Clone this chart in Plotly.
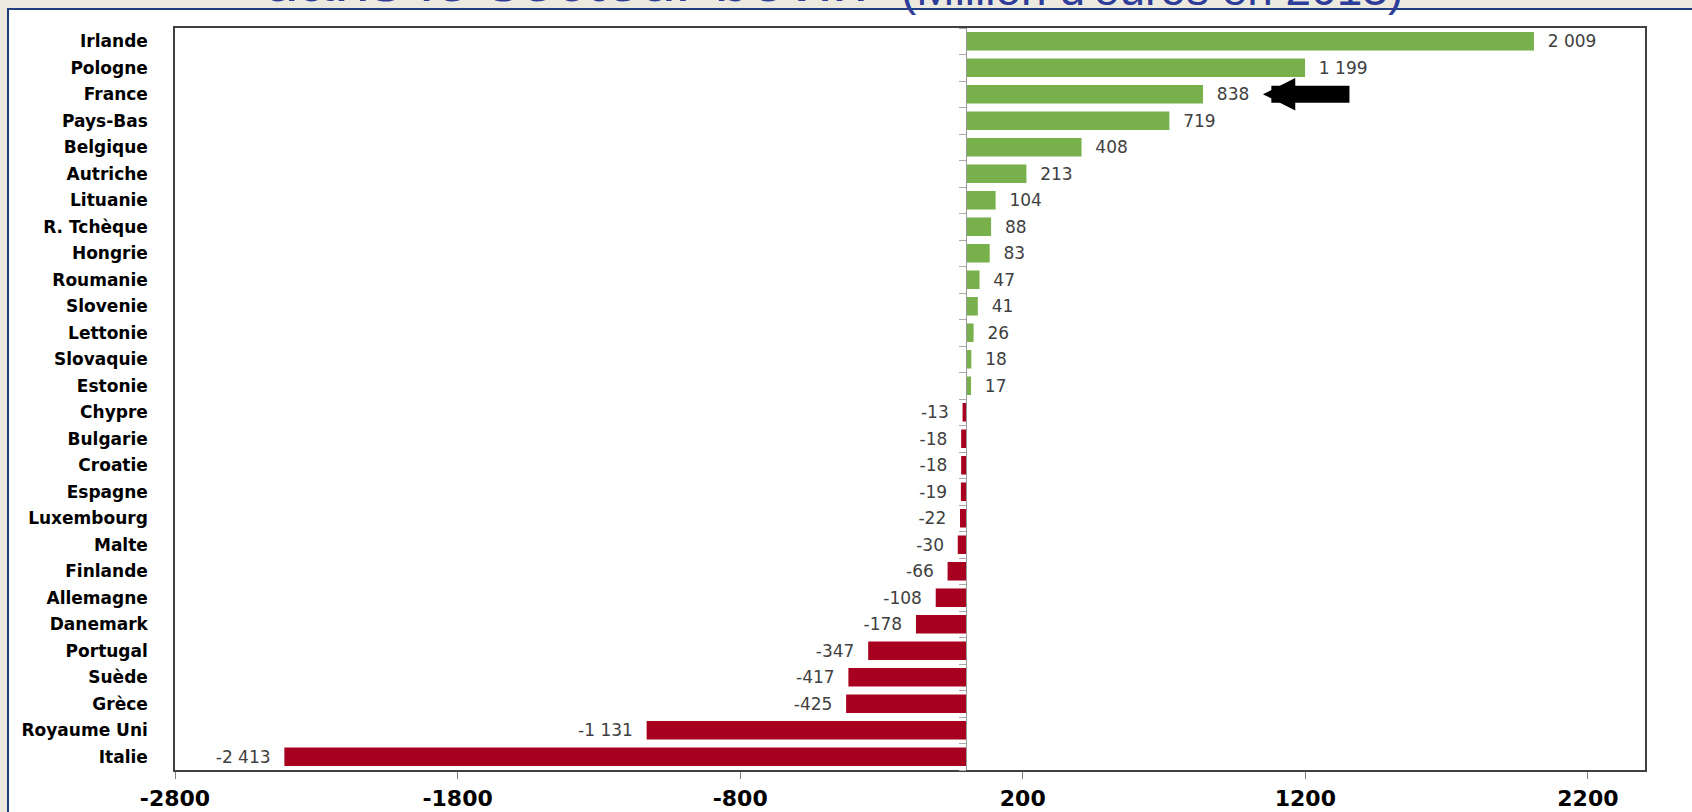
import plotly.graph_objects as go

pays = ["Irlande", "Pologne", "France", "Pays-Bas", "Belgique", "Autriche", "Lituanie",
        "R. Tchèque", "Hongrie", "Roumanie", "Slovenie", "Lettonie", "Slovaquie", "Estonie",
        "Chypre", "Bulgarie", "Croatie", "Espagne", "Luxembourg", "Malte", "Finlande",
        "Allemagne", "Danemark", "Portugal", "Suède", "Grèce", "Royaume Uni", "Italie"]
solde = [2009, 1199, 838, 719, 408, 213, 104, 88, 83, 47, 41, 26, 18, 17,
         -13, -18, -18, -19, -22, -30, -66, -108, -178, -347, -417, -425, -1131, -2413]
graduations = [-2800, -1800, -800, 200, 1200, 2200]
libelles_x = ["-2800", "-1800", "-800", "200", "1200", "2200"]

VERT = "#78B04C"
ROUGE = "#A8001F"
NBSP = "\u00a0"


def etiquette(v):
    s = f"{v:,}".replace(",", " ")
    return NBSP * 2 + s if v >= 0 else s + NBSP * 2


couleurs = [VERT if v >= 0 else ROUGE for v in solde]
textes = [etiquette(v) for v in solde]

xmin, xmax = -2800, 2402
n = len(pays)

fig = go.Figure()
fig.add_trace(go.Bar(
    x=solde, y=pays, orientation="h",
    marker=dict(color=couleurs, line=dict(width=0)),
    text=textes, textposition="outside", constraintext="none", cliponaxis=False,
    textfont=dict(family="DejaVu Sans", size=17, color="#404040"),
    hoverinfo="x+y", showlegend=False,
))
# trace vide pour faire exister l'axe du zéro (graduations entre les pays)
fig.add_trace(go.Scatter(x=[None], y=[None], yaxis="y2", hoverinfo="skip", showlegend=False))

# fond de la diapositive : panneau blanc bordé de bleu
fig.add_shape(type="rect", xref="paper", yref="paper",
              x0=-0.1136, x1=1.2, y0=-0.2, y1=1.0256,
              fillcolor="white", line=dict(color="#1F3F7F", width=2), layer="below")

# titre (coupé en haut de l'image)
fig.add_annotation(text="dans le secteur bovin", xref="paper", yref="paper",
                   x=0.0585, y=1.0148, xanchor="left", yanchor="bottom", showarrow=False,
                   font=dict(family="Liberation Sans", size=64, color="#2E3C9A"))
fig.add_annotation(text="(Million d'euros en 2013)", xref="paper", yref="paper",
                   x=0.4925, y=1.0148, xanchor="left", yanchor="bottom", showarrow=False,
                   font=dict(family="Liberation Sans", size=46, color="#2E3C9A"))

# flèche vers la France
fig.add_annotation(x=1050, y="France", xref="x", yref="y", ax=88, ay=0,
                   axref="pixel", ayref="pixel", text="", showarrow=True,
                   arrowhead=2, arrowwidth=17, arrowsize=0.38, arrowcolor="black")

fig.update_layout(
    width=1692, height=812,
    margin=dict(l=175, r=47, t=28, b=42),
    paper_bgcolor="#ECEADF", plot_bgcolor="white",
    bargap=0.3,
    xaxis=dict(range=[xmin, xmax], tickmode="array", tickvals=graduations, ticktext=libelles_x,
               automargin=False,
               showgrid=False, zeroline=False, showline=True, mirror=True,
               linecolor="#404040", linewidth=1.5,
               ticks="outside", ticklen=7, tickcolor="#808080",
               ticklabelstandoff=1,
               tickfont=dict(family="DejaVu Sans", size=22, color="black", weight="bold")),
    yaxis=dict(categoryorder="array", categoryarray=pays, autorange="reversed",
               automargin=False,
               showgrid=False, zeroline=False, showline=True, mirror=True,
               linecolor="#404040", linewidth=1.5, ticks="", ticklabelstandoff=22,
               tickfont=dict(family="DejaVu Sans", size=17, color="black", weight="bold")),
    yaxis2=dict(overlaying="y", anchor="free", position=(0 - xmin) / (xmax - xmin),
                side="left", range=[n - 0.5, -0.5], tickmode="linear", tick0=-0.5, dtick=1,
                automargin=False,
                showticklabels=False, showgrid=False, zeroline=False,
                showline=True, linecolor="#999999", linewidth=1,
                ticks="outside", ticklen=7, tickcolor="#aaaaaa"),
)

fig.write_html("out.html", config={"displayModeBar": False},
               post_script="document.body.style.margin='0';document.body.style.overflow='hidden';")
